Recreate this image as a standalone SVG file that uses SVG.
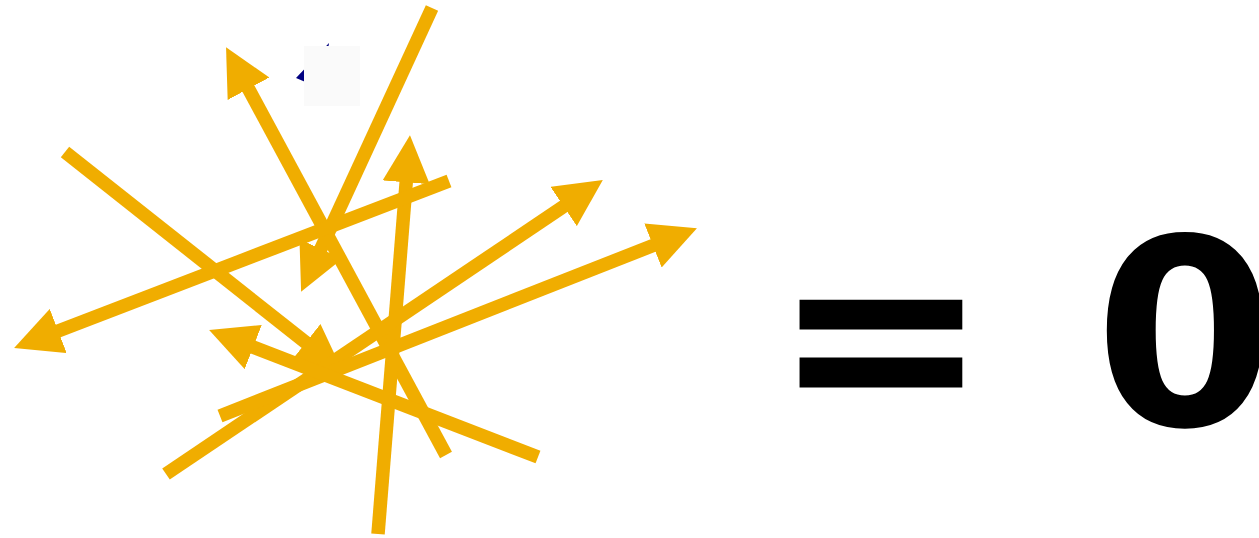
<svg xmlns="http://www.w3.org/2000/svg" width="1259" height="538" viewBox="0 0 1259 538">
  <style>
    .vec { stroke: #f0ad00; stroke-width: 13.5; fill: none; marker-end: url(#head); }
    .eq { font-family: "DejaVu Sans", "Liberation Sans", sans-serif; font-weight: bold; fill: #000; }
  </style>
  <defs>
    <marker id="head" viewBox="0 0 10 10" refX="0.3" refY="5" markerWidth="3.5" markerHeight="3.5" markerUnits="strokeWidth" orient="auto">
      <path d="M0,0 L10,5 L0,10 z" fill="#f0ad00"/>
    </marker>
  </defs>
  <rect width="1259" height="538" fill="#fff"/>
  <g id="hidden-vector">
    <polygon points="296,78 329,43 322,89" fill="#000080"/>
    <rect x="304" y="46" width="56" height="60" fill="#fafafa"/>
  </g>
  <g id="vectors">
    <line class="vec" x1="432" y1="8" x2="320.3" y2="250.2"/>
    <line class="vec" x1="446" y1="455" x2="247.8" y2="87.5"/>
    <line class="vec" x1="65" y1="152" x2="306.9" y2="343.4"/>
    <line class="vec" x1="378" y1="534" x2="406.3" y2="180.9"/>
    <line class="vec" x1="449" y1="181" x2="56.9" y2="331.5"/>
    <line class="vec" x1="166" y1="474" x2="564.8" y2="205.7"/>
    <line class="vec" x1="220" y1="416" x2="654.3" y2="245"/>
    <line class="vec" x1="538" y1="457" x2="251.9" y2="346.6"/>
  </g>
  <g id="result">
    <text class="eq" x="772" y="425" font-size="260" word-spacing="14">= 0</text>
  </g>
</svg>
